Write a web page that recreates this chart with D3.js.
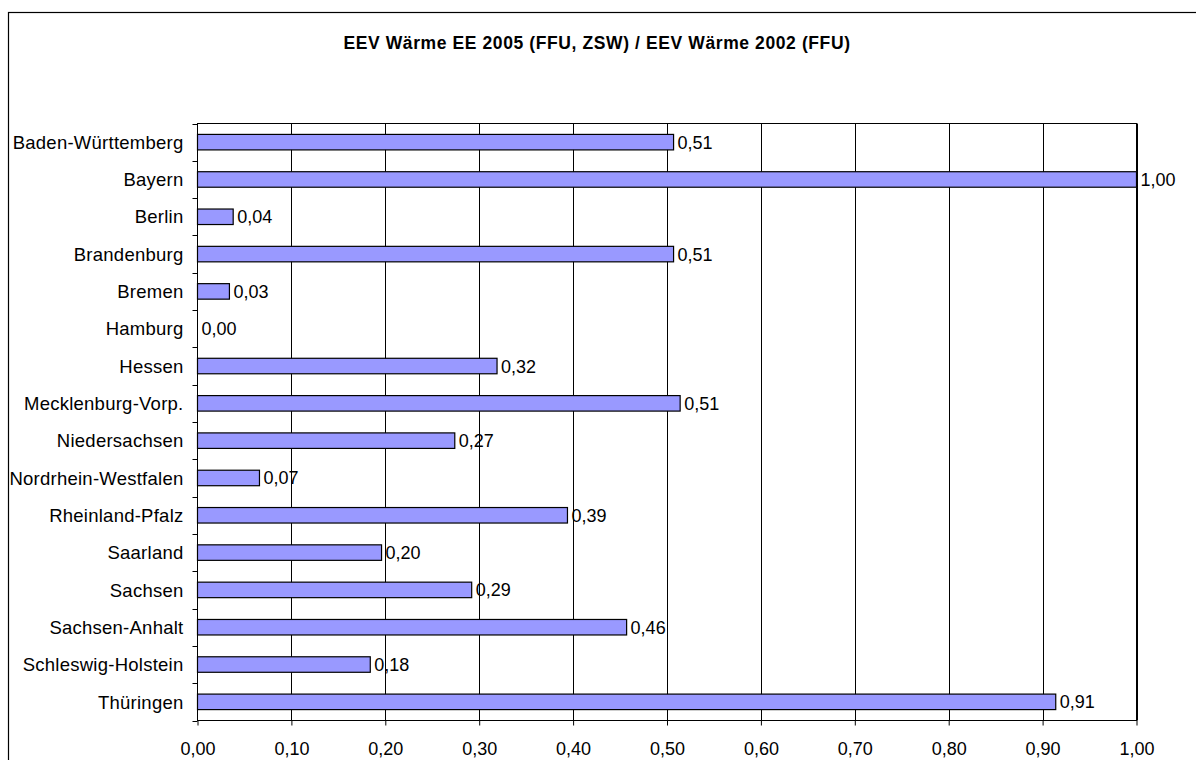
<!DOCTYPE html>
<html>
<head>
<meta charset="utf-8">
<script src="https://cdn.jsdelivr.net/npm/d3@7"></script>
<style>
  html, body { margin: 0; padding: 0; background: #fff; }
  svg { display: block; font-family: "Liberation Sans", Arial, sans-serif; }
</style>
</head>
<body>
<svg id="chart" width="1196" height="760"></svg>
<script>
const title = "EEV Wärme EE 2005 (FFU, ZSW) / EEV Wärme 2002 (FFU)";
const categories = ["Baden-Württemberg", "Bayern", "Berlin", "Brandenburg", "Bremen", "Hamburg", "Hessen",
  "Mecklenburg-Vorp.", "Niedersachsen", "Nordrhein-Westfalen", "Rheinland-Pfalz", "Saarland", "Sachsen",
  "Sachsen-Anhalt", "Schleswig-Holstein", "Thüringen"];
const values = [0.507, 1.00, 0.038, 0.507, 0.034, 0.00, 0.319, 0.514, 0.274, 0.066, 0.394, 0.196, 0.292,
  0.457, 0.184, 0.914];
const xTicks = [0, 0.1, 0.2, 0.3, 0.4, 0.5, 0.6, 0.7, 0.8, 0.9, 1.0];

const svg = d3.select("#chart");
const fmt = v => d3.format(".2f")(v).replace(".", ",");

const plot = { left: 197.5, right: 1136.5, top: 123.5, bottom: 720.5 };

// outer frame
svg.append("rect")
  .attr("x", 8.5).attr("y", 12.5).attr("width", 1200).attr("height", 800)
  .attr("fill", "#fff").attr("stroke", "#000").attr("stroke-width", 1.2);

// title
svg.append("text")
  .attr("x", 597).attr("y", 49)
  .attr("text-anchor", "middle")
  .attr("font-weight", "bold")
  .attr("font-size", 17.5)
  .attr("letter-spacing", 0.6)
  .text(title);

const x = d3.scaleLinear().domain([0, 1]).range([plot.left, plot.right]);
const y = d3.scaleBand().domain(categories).range([plot.top, plot.bottom]).paddingInner(0).paddingOuter(0);

// grid lines
svg.append("g").selectAll("line").data(xTicks.slice(1)).join("line")
  .attr("x1", d => Math.round(x(d)) + 0.5).attr("x2", d => Math.round(x(d)) + 0.5)
  .attr("y1", plot.top).attr("y2", plot.bottom)
  .attr("stroke", "#000").attr("stroke-width", 1);

// plot border
svg.append("rect")
  .attr("x", plot.left).attr("y", plot.top)
  .attr("width", plot.right - plot.left).attr("height", plot.bottom - plot.top)
  .attr("fill", "none").attr("stroke", "#000").attr("stroke-width", 1);

// bars
const barH = 15.5;
svg.append("g").selectAll("rect").data(categories).join("rect")
  .filter((d, i) => values[i] > 0)
  .attr("x", plot.left)
  .attr("y", d => y(d) + y.bandwidth() / 2 - barH / 2)
  .attr("width", d => x(values[categories.indexOf(d)]) - plot.left)
  .attr("height", barH)
  .attr("fill", "#9999FF")
  .attr("stroke", "#000")
  .attr("stroke-width", 1.2);

// value labels
svg.append("g").selectAll("text").data(categories).join("text")
  .attr("x", d => x(values[categories.indexOf(d)]) + 4)
  .attr("y", d => y(d) + y.bandwidth() / 2 + 6.5)
  .attr("font-size", 18)
  .attr("fill", "#000")
  .text(d => fmt(values[categories.indexOf(d)]));

// y axis (category)
const yAxis = d3.axisLeft(y).tickSize(0).tickPadding(14);
const gy = svg.append("g").attr("transform", `translate(${plot.left},0)`).call(yAxis);
gy.select(".domain").remove();
gy.selectAll("text").attr("font-size", 18.5).attr("letter-spacing", 0.25)
  .attr("font-family", "Liberation Sans, Arial, sans-serif")
  .attr("fill", "#000").attr("dy", "0.36em");
// boundary ticks
const bounds = categories.map(c => y(c)).concat([plot.bottom]);
svg.append("g").selectAll("line").data(bounds).join("line")
  .attr("x1", plot.left - 5).attr("x2", plot.left)
  .attr("y1", d => Math.round(d) + 0.5).attr("y2", d => Math.round(d) + 0.5)
  .attr("stroke", "#000");

// x axis
const xAxis = d3.axisBottom(x).tickValues(xTicks).tickFormat(fmt).tickSize(5).tickPadding(17);
const gx = svg.append("g").attr("transform", `translate(0,${plot.bottom})`).call(xAxis);
gx.select(".domain").remove();
gx.selectAll("line").attr("stroke", "#000");
gx.selectAll("text").attr("font-size", 18).attr("font-family", "Liberation Sans, Arial, sans-serif")
  .attr("fill", "#000");
</script>
</body>
</html>
